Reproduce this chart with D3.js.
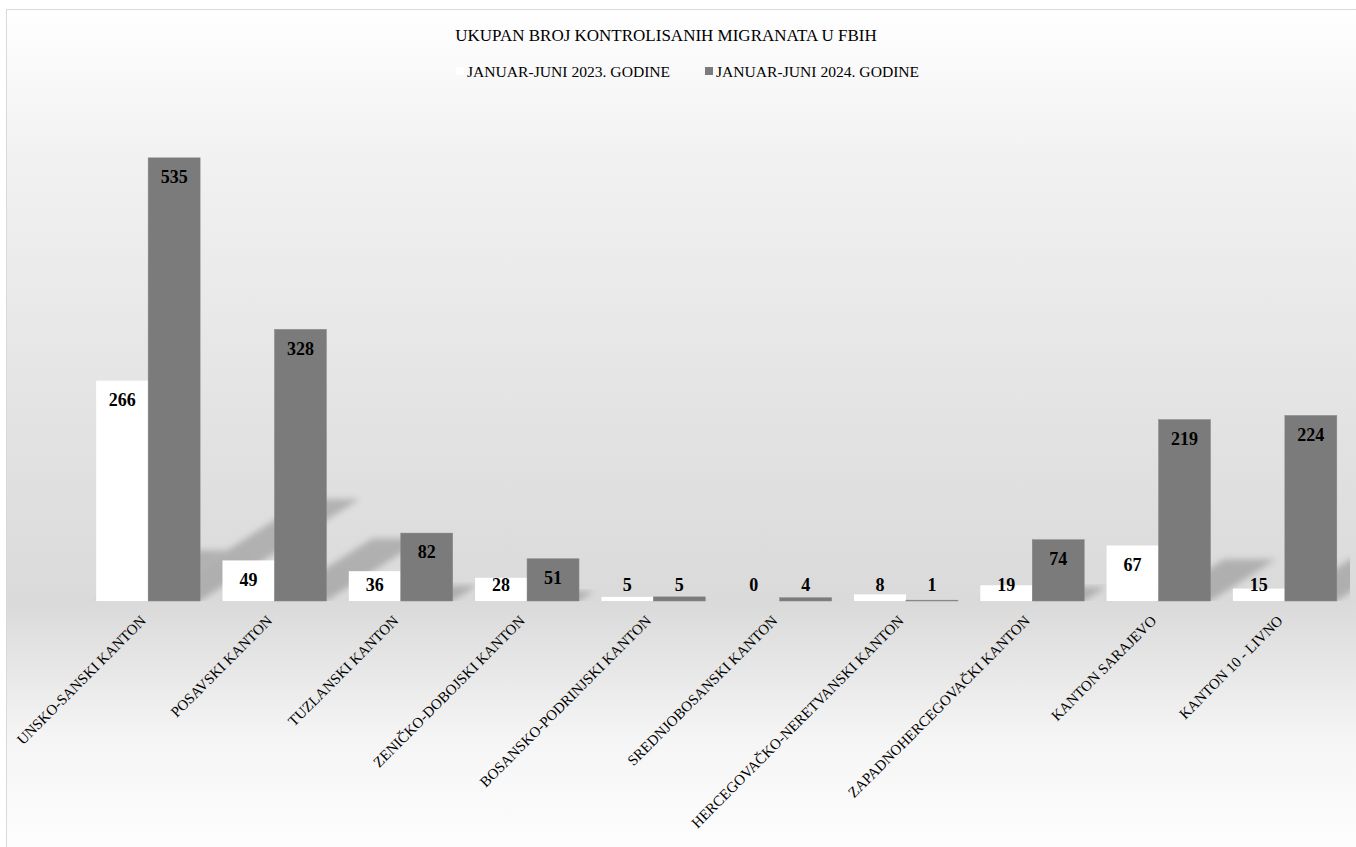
<!DOCTYPE html>
<html>
<head>
<meta charset="utf-8">
<script src="https://cdn.jsdelivr.net/npm/d3@7"></script>
<style>
  html, body { margin: 0; padding: 0; background: #ffffff; }
  svg { display: block; }
</style>
</head>
<body>
<svg id="chart" width="1356" height="847"></svg>
<script>
const categories = [
  "UNSKO-SANSKI KANTON",
  "POSAVSKI KANTON",
  "TUZLANSKI KANTON",
  "ZENIČKO-DOBOJSKI KANTON",
  "BOSANSKO-PODRINJSKI KANTON",
  "SREDNJOBOSANSKI KANTON",
  "HERCEGOVAČKO-NERETVANSKI KANTON",
  "ZAPADNOHERCEGOVAČKI KANTON",
  "KANTON SARAJEVO",
  "KANTON 10 - LIVNO"
];
const seriesNames = ["JANUAR-JUNI 2023. GODINE", "JANUAR-JUNI 2024. GODINE"];
const values2023 = [266, 49, 36, 28, 5, 0, 8, 19, 67, 15];
const values2024 = [535, 328, 82, 51, 5, 4, 1, 74, 219, 224];
const titleText = "UKUPAN BROJ KONTROLISANIH MIGRANATA U FBIH";

const seriesColors = ["#ffffff", "#7b7b7b"];
const FONT = "'Liberation Serif', 'Times New Roman', serif";

const svg = d3.select("#chart");
const W = 1356, H = 847;

// --- background with gradient ---
const defs = svg.append("defs");
const grad = defs.append("linearGradient").attr("id", "bg").attr("x1", 0).attr("y1", 0).attr("x2", 0).attr("y2", 1);
[[0, "#ffffff"], [0.18, "#f1f1f1"], [0.5, "#e2e2e2"], [0.7, "#dadada"], [0.76, "#e4e4e4"], [0.86, "#f5f5f5"], [1, "#fefefe"]]
  .forEach(([o, c]) => grad.append("stop").attr("offset", o).attr("stop-color", c));

const blur = defs.append("filter").attr("id", "blur").attr("x", "-20%").attr("y", "-20%").attr("width", "140%").attr("height", "140%");
blur.append("feGaussianBlur").attr("stdDeviation", 3);

const areaX0 = 6, areaY0 = 9;
svg.append("rect").attr("x", areaX0 + 0.5).attr("y", areaY0 + 0.5)
  .attr("width", W - areaX0 + 10).attr("height", H - areaY0 + 10)
  .attr("fill", "url(#bg)").attr("stroke", "#d9d9d9").attr("stroke-width", 1);

// --- scales ---
const baseY = 601;
const y = d3.scaleLinear().domain([0, 600]).range([baseY, 104]);
const x = d3.scaleBand().domain(categories).range([85, 1348]).paddingInner(0.177).paddingOuter(0.0885);
const xs = d3.scaleBand().domain(seriesNames).range([0, x.bandwidth()]).padding(0);

defs.append("clipPath").attr("id", "plotClip").append("rect")
  .attr("x", 85).attr("y", 90).attr("width", 1350 - 85).attr("height", baseY - 90);

const data = [];
categories.forEach((c, i) => {
  data.push({ cat: c, s: seriesNames[0], v: values2023[i], si: 0 });
  data.push({ cat: c, s: seriesNames[1], v: values2024[i], si: 1 });
});

// --- shadows ---
const shadowG = svg.append("g").attr("clip-path", "url(#plotClip)");
shadowG.selectAll("path").data(data.filter(d => d.v > 0)).join("path")
  .attr("d", d => {
    const x0 = x(d.cat) + xs(d.s), x1 = x0 + xs.bandwidth();
    const h = baseY - y(d.v);
    const dx = 0.36 * h, dy = 0.23 * h;
    return `M${x0},${baseY}L${x1},${baseY}L${x1 + dx},${baseY - dy}L${x0 + dx},${baseY - dy}Z`;
  })
  .attr("fill", "rgba(0,0,0,0.2)")
  .attr("filter", "url(#blur)");

// --- bars ---
svg.append("g").selectAll("rect").data(data).join("rect")
  .attr("x", d => x(d.cat) + xs(d.s))
  .attr("y", d => y(d.v))
  .attr("width", xs.bandwidth())
  .attr("height", d => baseY - y(d.v))
  .attr("fill", d => seriesColors[d.si])
  .attr("stroke", d => d.si === 1 ? "#888888" : "none")
  .attr("stroke-width", 0.5);

// --- data labels ---
svg.append("g").selectAll("text").data(data).join("text")
  .attr("x", d => x(d.cat) + xs(d.s) + xs.bandwidth() / 2)
  .attr("y", d => Math.min(y(d.v) + 19, baseY - 16))
  .attr("dy", "0.35em")
  .attr("text-anchor", "middle")
  .attr("font-family", FONT)
  .attr("font-weight", "bold")
  .attr("font-size", 18)
  .attr("fill", "#000")
  .text(d => d.v);

// --- category labels ---
const catG = svg.append("g");
catG.selectAll("text").data(categories).join("text")
  .attr("transform", d => `translate(${x(d) + x.bandwidth() / 2 - 5},${baseY + 17}) rotate(-45)`)
  .attr("text-anchor", "end")
  .attr("dy", "0.35em")
  .attr("font-family", FONT)
  .attr("font-size", 14.8)
  .attr("fill", "#000")
  .text(d => d);

// --- title ---
svg.append("text")
  .attr("x", 666).attr("y", 41)
  .attr("text-anchor", "middle")
  .attr("font-family", FONT)
  .attr("font-size", 17)
  .attr("fill", "#000")
  .text(titleText);

// --- legend ---
const legend = svg.append("g");
const legendItems = [{ name: seriesNames[0], mx: 456, tx: 467 }, { name: seriesNames[1], mx: 705, tx: 716 }];
legendItems.forEach((it, i) => {
  legend.append("rect").attr("x", it.mx).attr("y", 67).attr("width", 8).attr("height", 8)
    .attr("fill", seriesColors[i]);
  legend.append("text").attr("x", it.tx).attr("y", 77)
    .attr("font-family", FONT).attr("font-size", 15.6).attr("fill", "#000")
    .text(it.name);
});
</script>
</body>
</html>
